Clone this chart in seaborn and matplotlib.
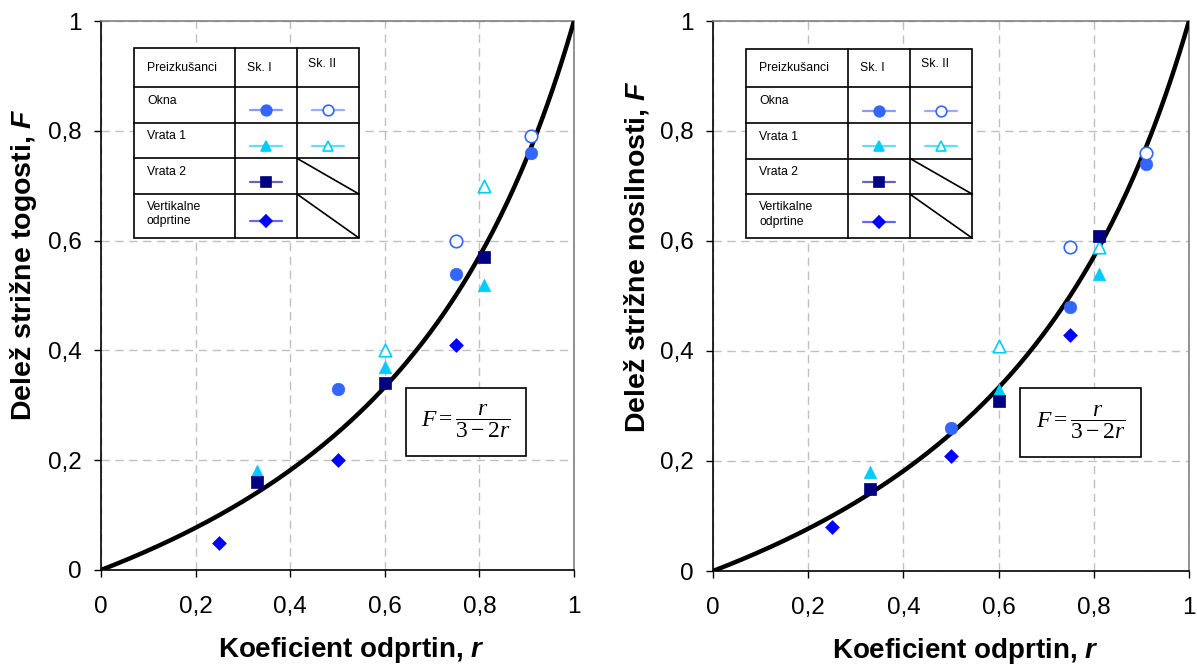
import numpy as np
import pandas as pd
import matplotlib
matplotlib.use("Agg")
import matplotlib.pyplot as plt
import seaborn as sns

# --- data ---
groups = ["Okna I", "Okna II", "Vrata 1 I", "Vrata 1 II", "Vrata 2", "Vertikalne"]

# left panel: delez strizne togosti
tog_x = {
    "Okna I": [0.5, 0.75, 0.91],
    "Okna II": [0.75, 0.91],
    "Vrata 1 I": [0.33, 0.6, 0.81],
    "Vrata 1 II": [0.6, 0.81],
    "Vrata 2": [0.33, 0.6, 0.81],
    "Vertikalne": [0.25, 0.5, 0.75],
}
tog_y = {
    "Okna I": [0.33, 0.54, 0.76],
    "Okna II": [0.60, 0.79],
    "Vrata 1 I": [0.18, 0.37, 0.52],
    "Vrata 1 II": [0.40, 0.70],
    "Vrata 2": [0.16, 0.34, 0.57],
    "Vertikalne": [0.05, 0.20, 0.41],
}
# right panel: delez strizne nosilnosti
nos_x = tog_x
nos_y = {
    "Okna I": [0.26, 0.48, 0.74],
    "Okna II": [0.59, 0.76],
    "Vrata 1 I": [0.18, 0.33, 0.54],
    "Vrata 1 II": [0.41, 0.59],
    "Vrata 2": [0.15, 0.31, 0.61],
    "Vertikalne": [0.08, 0.21, 0.43],
}

ticks = [0, 0.2, 0.4, 0.6, 0.8, 1]
tick_labels = ["0", "0,2", "0,4", "0,6", "0,8", "1"]

colors = {"Okna I": "#3366FF", "Okna II": "#3366FF", "Vrata 1 I": "#00CCFF",
          "Vrata 1 II": "#00CCFF", "Vrata 2": "#000080", "Vertikalne": "#0000FF"}
line_colors = {"Okna I": "#8899FF", "Okna II": "#99AAFF", "Vrata 1 I": "#66DDFF",
               "Vrata 1 II": "#66DDFF", "Vrata 2": "#6666AA", "Vertikalne": "#6666FF"}
markers = {"Okna I": "o", "Okna II": "o", "Vrata 1 I": "^", "Vrata 1 II": "^",
           "Vrata 2": "s", "Vertikalne": "D"}
filled = {"Okna I": True, "Okna II": False, "Vrata 1 I": True, "Vrata 1 II": False,
          "Vrata 2": True, "Vertikalne": True}
sizes = {"o": 9, "^": 9, "s": 9, "D": 7}

sns.set_theme(style="ticks")
plt.rcParams["font.family"] = ["Liberation Sans", "DejaVu Sans"]
plt.rcParams["mathtext.fontset"] = "custom"
plt.rcParams["mathtext.rm"] = "Liberation Serif"
plt.rcParams["mathtext.it"] = "Liberation Serif:italic"
plt.rcParams["mathtext.bf"] = "Liberation Sans:bold"
plt.rcParams["mathtext.bfit"] = "Liberation Sans:bold:italic"
for k in ("text.color", "axes.labelcolor", "xtick.color", "ytick.color"):
    plt.rcParams[k] = "black"

fig = plt.figure(figsize=(11.97, 6.64), dpi=100)
ax1 = fig.add_axes([101/1197, 1-570/664, 473/1197, 549/664])
ax2 = fig.add_axes([713/1197, 1-571/664, 476/1197, 550/664])


def draw_table(ax):
    x0, xa, xb, x1 = 0.070, 0.283, 0.414, 0.545
    rows = [0.950, 0.880, 0.814, 0.750, 0.685, 0.605]
    ax.add_patch(plt.Rectangle((x0, rows[-1]), x1-x0, rows[0]-rows[-1], facecolor="white",
                               edgecolor="black", lw=1.2, zorder=5))
    for y in rows[1:-1]:
        ax.plot([x0, x1], [y, y], color="black", lw=1.2, zorder=6)
    for x in (xa, xb):
        ax.plot([x, x], [rows[0], rows[-1]], color="black", lw=1.2, zorder=6)
    fs = 8.8
    ax.text(x0+0.027, (rows[0]+rows[1])/2, "Preizkušanci", fontsize=fs, va="center", zorder=7)
    ax.text(xa+0.025, (rows[0]+rows[1])/2, "Sk. I", fontsize=fs, va="center", zorder=7)
    ax.text(xb+0.023, (rows[0]+rows[1])/2 + 0.006, "Sk. II", fontsize=fs, va="center", zorder=7)
    names = ["Okna", "Vrata 1", "Vrata 2", "Vertikalne\nodprtine"]
    for i, nm in enumerate(names):
        yc = (rows[i+1]+rows[i+2])/2
        ax.text(x0+0.027, yc + 0.008 if i < 3 else yc + 0.003, nm, fontsize=fs, va="center",
                linespacing=1.25, zorder=7)
    cells = [("Okna I", 1, xa, xb), ("Okna II", 1, xb, x1), ("Vrata 1 I", 2, xa, xb),
             ("Vrata 1 II", 2, xb, x1), ("Vrata 2", 3, xa, xb), ("Vertikalne", 4, xa, xb)]
    for g, r, ca, cb in cells:
        cx = (ca+cb)/2
        cy = (rows[r]+rows[r+1])/2 - 0.010
        ax.plot([cx-0.034, cx+0.034], [cy, cy], color=line_colors[g], lw=1.6, zorder=7)
        ax.plot([cx], [cy], marker=markers[g], ms=sizes[markers[g]]*0.85,
                color=colors[g], mfc=colors[g] if filled[g] else "white",
                mec=colors[g], mew=1.2, zorder=8)
    for r in (3, 4):
        ax.plot([xb, x1], [rows[r], rows[r+1]], color="black", lw=1.2, zorder=7)


def panel(ax, xs, ys, ylabel, ylab_y):
    rs = np.linspace(0, 1, 201)
    curve = pd.DataFrame({"r": rs, "F": rs/(3-2*rs)})
    sns.lineplot(data=curve, x="r", y="F", color="black", lw=3.2, ax=ax, zorder=4)
    for g in groups:
        df = pd.DataFrame({"r": xs[g], "F": ys[g]})
        m = markers[g]
        s = (sizes[m])**2
        if filled[g]:
            sns.scatterplot(data=df, x="r", y="F", marker=m, s=s, color=colors[g],
                            edgecolor=colors[g], linewidth=0.5, ax=ax, zorder=5)
        else:
            sns.scatterplot(data=df, x="r", y="F", marker=m, s=s, facecolor="white",
                            edgecolor=colors[g], linewidth=1.2, ax=ax, zorder=5)
    ax.set_xlim(0, 1)
    ax.set_ylim(0, 1)
    ax.set_xticks(ticks)
    ax.set_yticks(ticks)
    ax.set_xticklabels(tick_labels)
    ax.set_yticklabels(tick_labels)
    ax.tick_params(axis="both", labelsize=17.5, length=5, width=1, direction="out",
                   color="black")
    ax.tick_params(axis="x", pad=14)
    ax.tick_params(axis="y", pad=9)
    ax.grid(True, color="#C0C0C0", linestyle=(0, (6, 4)), lw=1)
    ax.set_axisbelow(True)
    for s in ("left", "bottom"):
        ax.spines[s].set_color("black")
        ax.spines[s].set_linewidth(1.2)
    for s in ("top", "right"):
        ax.spines[s].set_color("#808080")
        ax.spines[s].set_linewidth(1.2)
    ax.set_xlabel("Koeficient odprtin, $\\mathbfit{r}$", fontsize=20, fontweight="bold")
    ax.set_ylabel(ylabel, fontsize=20.5, fontweight="bold")
    ax.xaxis.set_label_coords(0.53, -0.118)
    ax.yaxis.set_label_coords(-0.131, ylab_y)
    draw_table(ax)
    ax.text(0.772, 0.27, r"$F=\dfrac{r}{3-2r}$", fontsize=17, ha="center", va="center",
            zorder=7, bbox=dict(boxstyle="square,pad=0.65", facecolor="white",
                                edgecolor="black", lw=1.2))


panel(ax1, tog_x, tog_y, "Delež strižne togosti, $\\mathbfit{F}$", 0.557)
panel(ax2, nos_x, nos_y, "Delež strižne nosilnosti, $\\mathbfit{F}$", 0.571)

fig.savefig("out.png", dpi=100)
